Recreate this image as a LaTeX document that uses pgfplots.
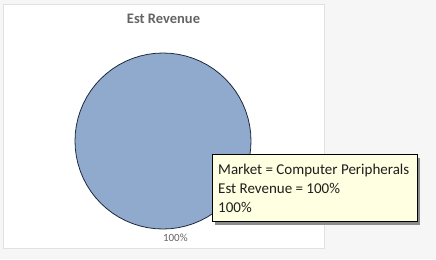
\documentclass[border=0pt]{standalone}
\usepackage{pgfplots}
\pgfplotsset{compat=1.18}
\usepackage{fontspec}
\setmainfont{Carlito}
\definecolor{bgc}{RGB}{246,246,246}
\definecolor{panelborder}{RGB}{225,225,225}
\definecolor{piefill}{RGB}{143,170,204}
\definecolor{pieline}{RGB}{30,40,60}
\definecolor{titlec}{RGB}{100,100,100}
\definecolor{tipfill}{RGB}{255,255,225}
\definecolor{tiptext}{RGB}{30,30,30}
\begin{document}
\begin{tikzpicture}[x=1bp,y=1bp]
\fill[bgc] (0,0) rectangle (436,259);
\filldraw[fill=white,draw=panelborder] (3.5,10.5) rectangle (324.5,254.5);
\node[font=\bfseries\fontsize{14.5bp}{16bp}\selectfont,text=titlec] at (163.5,240) {Est Revenue};
\begin{axis}[
  at={(75bp,30bp)}, anchor=south west,
  scale only axis, width=176bp, height=176bp,
  xmin=-1, xmax=1, ymin=-1, ymax=1,
  hide axis, clip=false,
]
\addplot[data cs=polar, fill=piefill, draw=pieline, line width=0.8pt] coordinates {
(0,1) (5,1) (10,1) (15,1) (20,1) (25,1) (30,1) (35,1) (40,1) (45,1) (50,1) (55,1)
(60,1) (65,1) (70,1) (75,1) (80,1) (85,1) (90,1) (95,1) (100,1) (105,1) (110,1) (115,1)
(120,1) (125,1) (130,1) (135,1) (140,1) (145,1) (150,1) (155,1) (160,1) (165,1) (170,1) (175,1)
(180,1) (185,1) (190,1) (195,1) (200,1) (205,1) (210,1) (215,1) (220,1) (225,1) (230,1) (235,1)
(240,1) (245,1) (250,1) (255,1) (260,1) (265,1) (270,1) (275,1) (280,1) (285,1) (290,1) (295,1)
(300,1) (305,1) (310,1) (315,1) (320,1) (325,1) (330,1) (335,1) (340,1) (345,1) (350,1) (355,1)
} -- cycle;
\node[font=\fontsize{11bp}{12bp}\selectfont,text=titlec] at (axis cs:0.14,-1.1) {100\%};
\end{axis}
% tooltip
\fill[black!45] (215,34) rectangle (420,101);
\filldraw[fill=tipfill,draw=black,line width=0.8pt] (212.5,37.5) rectangle (417,104.5);
\node[anchor=base west,inner sep=0pt,text=tiptext,font=\fontsize{15bp}{17bp}\selectfont] at (218,85) {Market = Computer Peripherals};
\node[anchor=base west,inner sep=0pt,text=tiptext,font=\fontsize{15bp}{17bp}\selectfont] at (218,66) {Est Revenue = 100\%};
\node[anchor=base west,inner sep=0pt,text=tiptext,font=\fontsize{15bp}{17bp}\selectfont] at (218,47) {100\%};
\pgfresetboundingbox
\useasboundingbox (0,0) rectangle (436,259);
\end{tikzpicture}
\end{document}
